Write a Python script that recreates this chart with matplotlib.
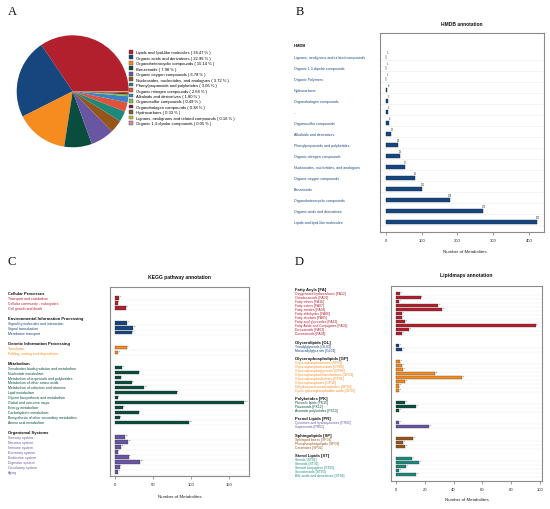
import matplotlib
matplotlib.use('Agg')
import matplotlib.pyplot as plt
from matplotlib.patches import Patch
import matplotlib.transforms as mtransforms

plt.rcParams['font.family'] = ['Liberation Sans', 'DejaVu Sans']

RED = '#b3202d'
BLUE = '#17457d'
ORANGE = '#f68b1f'
DKGREEN = '#0a4d3e'
PURPLE = '#6956a3'
BROWN = '#96561b'
TEAL = '#1d897b'

# ---------------- Panel A data ----------------
pie_labels = ['Lipids and lipid-like molecules', 'Organic acids and derivatives',
              'Organoheterocyclic compounds', 'Benzenoids', 'Organic oxygen compounds',
              'Nucleosides, nucleotides, and analogues', 'Phenylpropanoids and polyketides',
              'Organic nitrogen compounds', 'Alkaloids and derivatives', 'Organosulfur compounds',
              'Organohalogen compounds', 'Hydrocarbons',
              'Lignans, neolignans and related compounds', 'Organic 1,3-dipolar compounds']
pie_pcts = [34.47, 22.96, 15.14, 7.98, 6.78, 3.72, 3.06, 2.68, 1.80, 0.49, 0.38, 0.33, 0.16, 0.05]
pie_colors = [RED, BLUE, ORANGE, DKGREEN, PURPLE, BROWN, TEAL, '#e0523b', '#3a82c4',
              '#7cc242', '#8b1538', '#7b5f3c', '#c9c21c', '#d98aa8']

# ---------------- Panel B data ----------------
hmdb_cats = ['Lignans, neolignans and related compounds', 'Organic 1,3-dipolar compounds',
             'Organic Polymers', 'Hydrocarbons', 'Organohalogen compounds', '-',
             'Organosulfur compounds', 'Alkaloids and derivatives',
             'Phenylpropanoids and polyketides', 'Organic nitrogen compounds',
             'Nucleosides, nucleotides, and analogues', 'Organic oxygen compounds',
             'Benzenoids', 'Organoheterocyclic compounds', 'Organic acids and derivatives',
             'Lipids and lipid-like molecules']
hmdb_vals = [1, 1, 1, 4, 5, 6, 8, 14, 33, 38, 52, 81, 102, 178, 271, 423]

# ---------------- Panel C data ----------------
kegg_groups = ['Cellular Processes', 'Environmental Information Processing',
               'Genetic Information Processing', 'Metabolism', 'Organismal Systems']
kegg_cellular = ['Transport and catabolism', 'Cellular community - eukaryotes', 'Cell growth and death']
kegg_cellular_vals = [5, 3, 14]
kegg_env = ['Signaling molecules and interaction', 'Signal transduction', 'Membrane transport']
kegg_env_vals = [16, 24, 22]
kegg_gen = ['Translation', 'Folding, sorting and degradation']
kegg_gen_vals = [15, 4]
kegg_met = ['Xenobiotics biodegradation and metabolism', 'Nucleotide metabolism',
            'Metabolism of terpenoids and polyketides', 'Metabolism of other amino acids',
            'Metabolism of cofactors and vitamins', 'Lipid metabolism',
            'Glycan biosynthesis and metabolism', 'Global and overview maps',
            'Energy metabolism', 'Carbohydrate metabolism',
            'Biosynthesis of other secondary metabolites', 'Amino acid metabolism']
kegg_met_vals = [9, 31, 7, 22, 38, 81, 3, 170, 10, 31, 6, 98]
kegg_org = ['Sensory system', 'Nervous system', 'Immune system', 'Excretory system',
            'Endocrine system', 'Digestive system', 'Circulatory system', 'Aging']
kegg_org_vals = [13, 17, 8, 3, 18, 33, 6, 4]
kegg_colors = [RED, BLUE, ORANGE, DKGREEN, PURPLE]

# ---------------- Panel D data ----------------
lm_groups = ['Fatty Acyls [FA]', 'Glycerolipids [GL]', 'Glycerophospholipids [GP]',
             'Polyketides [PK]', 'Prenol Lipids [PR]', 'Sphingolipids [SP]', 'Sterol Lipids [ST]']
lm_fa = ['Oxygenated hydrocarbons [FA12]', 'Octadecanoids [FA02]', 'Fatty ethers [FA16]',
         'Fatty esters [FA07]', 'Fatty amides [FA08]', 'Fatty aldehydes [FA06]',
         'Fatty alcohols [FA05]', 'Fatty acyl glycosides [FA13]',
         'Fatty Acids and Conjugates [FA01]', 'Eicosanoids [FA03]', 'Docosanoids [FA04]']
lm_fa_vals = [3, 17, 2, 29, 32, 4, 4, 6, 97, 9, 4]
lm_gl = ['Triradylglycerols [GL03]', 'Monoradylglycerols [GL01]']
lm_gl_vals = [2, 4]
lm_gp = ['Glycerophosphoserines [GP03]', 'Glycerophosphoinositols [GP06]',
         'Glycerophosphoglycerols [GP04]', 'Glycerophosphoethanolamines [GP02]',
         'Glycerophosphocholines [GP01]', 'Glycerophosphates [GP10]',
         'Dihydroxyacetonephosphates [GP30]', 'Cyclic glycerophosphatidic acids [GP20]']
lm_gp_vals = [3, 4, 5, 27, 46, 6, 2, 2]
lm_pk = ['Phenolic lipids [PK15]', 'Flavonoids [PK12]', 'Aromatic polyketides [PK13]']
lm_pk_vals = [6, 14, 2]
lm_pr = ['Quinones and hydroquinones [PR02]', 'Isoprenoids [PR01]']
lm_pr_vals = [2, 23]
lm_sp = ['Sphingoid bases [SP01]', 'Phosphosphingolipids [SP03]', 'Ceramides [SP02]']
lm_sp_vals = [12, 5, 6]
lm_st = ['Sterols [ST01]', 'Steroids [ST02]', 'Steroid conjugates [ST05]',
         'Secosteroids [ST03]', 'Bile acids and derivatives [ST04]']
lm_st_vals = [11, 16, 7, 2, 14]
lm_colors = [RED, BLUE, ORANGE, DKGREEN, PURPLE, BROWN, TEAL]

W, H = 550, 510
fig = plt.figure(figsize=(5.5, 5.1), dpi=100)


def fx(px):
    return px / W


def fy(py):
    return 1 - py / H


def style_bar_axes(ax, xticks, tick_fs=3.0):
    for s in ax.spines.values():
        s.set_color('#8a8a8a')
        s.set_linewidth(0.8)
    ax.set_yticks([])
    ax.set_xticks(xticks)
    ax.tick_params(axis='x', labelsize=tick_fs, length=2, width=0.4, pad=2.5,
                   color='#555555', labelcolor='#222222')


# ---------------- Panel A ----------------
axA = fig.add_axes([fx(72.7 - 56), fy(92.3 + 56), fx(112), 112 / H])
wedges, _ = axA.pie(pie_pcts, colors=pie_colors, startangle=0, counterclock=True,
                    radius=1, wedgeprops=dict(linewidth=0))
axA.set_xlim(-1, 1)
axA.set_ylim(-1, 1)
axA.set_aspect('equal')
handles = [Patch(facecolor=c, edgecolor='#444444', linewidth=0.3) for c in pie_colors]
labels = [f'{n} ( {p:.2f} % )' for n, p in zip(pie_labels, pie_pcts)]
fig.legend(handles, labels, loc='upper left', bbox_to_anchor=(fx(129), fy(51)),
           frameon=False, fontsize=3.0, handlelength=1.0, handleheight=1.0,
           handletextpad=0.7, labelspacing=0.28, borderaxespad=0, borderpad=0)

# ---------------- Panel B ----------------
axB = fig.add_axes([fx(380), fy(233), fx(164), 199 / H])
n = len(hmdb_cats)
ysB = list(range(n))
axB.set_ylim(n - 1 + 0.9, -2.17)
axB.set_xlim(-16.8, 442)
for y in ysB:
    axB.axhline(y + 0.25, color='#ececec', lw=0.4, zorder=0)
axB.barh(ysB, hmdb_vals, height=0.38, color=BLUE, edgecolor='#0c2d55', linewidth=0.3, zorder=2)
for y, v in zip(ysB, hmdb_vals):
    axB.text(v + 2, y - 0.25, str(v), fontsize=1.8, ha='center', va='bottom', color='#333333')
style_bar_axes(axB, [0, 100, 200, 300, 400])
transB = mtransforms.blended_transform_factory(fig.transFigure, axB.transData)
axB.text(fx(294), -1.08, 'HMDB', transform=transB, fontsize=3.0, fontweight='bold',
         ha='left', va='center', color='#111111')
for y, c in zip(ysB, hmdb_cats):
    axB.text(fx(294), y, c, transform=transB, fontsize=2.6, ha='left', va='center', color=BLUE)
fig.text(fx(462), fy(24), 'HMDB annotation', fontsize=3.5, fontweight='bold',
         ha='center', va='center', color='#111111')
fig.text(fx(465), fy(252), 'Number of Metabolites', fontsize=3.2, ha='center', va='center',
         color='#222222')


# ---------------- grouped bar helper ----------------
def grouped_panel(ax, groups, names_list, vals_list, colors, label_px, bar_h,
                  head_fs, item_fs, val_fs):
    trans = mtransforms.blended_transform_factory(fig.transFigure, ax.transData)
    row = 0
    for gi, (g, names, vals, col) in enumerate(zip(groups, names_list, vals_list, colors)):
        if gi > 0:
            row += 1
        ax.text(fx(label_px), row, g, transform=trans, fontsize=head_fs, fontweight='bold',
                ha='left', va='center', color='#111111')
        row += 1
        ys = list(range(row, row + len(names)))
        for y in ys:
            ax.axhline(y + 0.5, color='#ececec', lw=0.35, zorder=0)
        ax.barh(ys, vals, height=bar_h, color=col, edgecolor='#222222', linewidth=0.2, zorder=2)
        for y, nme, v in zip(ys, names, vals):
            ax.text(fx(label_px), y, nme, transform=trans, fontsize=item_fs, ha='left',
                    va='center', color=col)
            ax.text(v + 0.5, y - bar_h / 2, str(v), fontsize=val_fs, ha='left', va='bottom',
                    color='#444444')
        row += len(names)
    return row


# ---------------- Panel C ----------------
axC = fig.add_axes([fx(110), fy(477), fx(139), 189 / H])
grouped_panel(axC, kegg_groups,
              [kegg_cellular, kegg_env, kegg_gen, kegg_met, kegg_org],
              [kegg_cellular_vals, kegg_env_vals, kegg_gen_vals, kegg_met_vals, kegg_org_vals],
              kegg_colors, 8, 0.7, 3.0, 2.5, 1.6)
axC.set_ylim(36.8, -1.2)
axC.set_xlim(-7, 176.6)
style_bar_axes(axC, [0, 50, 100, 150])
fig.text(fx(179), fy(278), 'KEGG pathway annotation', fontsize=3.6, fontweight='bold',
         ha='center', va='center', color='#111111')
fig.text(fx(180), fy(497), 'Number of Metabolites', fontsize=3.2, ha='center', va='center',
         color='#222222')

# ---------------- Panel D ----------------
axD = fig.add_axes([fx(391), fy(482), fx(151), 195 / H])
grouped_panel(axD, lm_groups,
              [lm_fa, lm_gl, lm_gp, lm_pk, lm_pr, lm_sp, lm_st],
              [lm_fa_vals, lm_gl_vals, lm_gp_vals, lm_pk_vals, lm_pr_vals, lm_sp_vals, lm_st_vals],
              lm_colors, 295, 0.75, 3.0, 2.4, 1.5)
axD.set_ylim(47.5, -0.74)
axD.set_xlim(-3.5, 101.4)
style_bar_axes(axD, [0, 20, 40, 60, 80, 100])
fig.text(fx(466), fy(276), 'Lipidmaps annotation', fontsize=3.6, fontweight='bold',
         ha='center', va='center', color='#111111')
fig.text(fx(467), fy(500), 'Number of Metabolites', fontsize=3.2, ha='center', va='center',
         color='#222222')

# ---------------- Panel letters ----------------
for letter, x, y in [('A', 8, 15), ('B', 296, 15), ('C', 8, 265), ('D', 295, 265)]:
    fig.text(fx(x), fy(y), letter, fontsize=9, family=['Liberation Serif', 'DejaVu Serif'],
             ha='left', va='baseline', color='#111111')

fig.savefig('out.png', dpi=100)
